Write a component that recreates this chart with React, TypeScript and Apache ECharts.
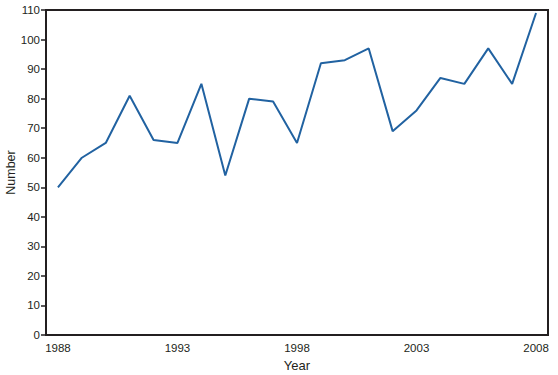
import React, { useEffect, useRef } from "react";
import * as echarts from "echarts";

const years = ["1988","1989","1990","1991","1992","1993","1994","1995","1996","1997","1998","1999","2000","2001","2002","2003","2004","2005","2006","2007","2008"];
const counts = [50, 60, 65, 81, 66, 65, 85, 54, 80, 79, 65, 92, 93, 97, 69, 76, 87, 85, 97, 85, 109];

const ink = "#231f20";
const font = "Liberation Sans, Arial, sans-serif";

export default function App() {
  const ref = useRef<HTMLDivElement>(null);
  useEffect(() => {
    if (!ref.current) return;
    const chart = echarts.init(ref.current, null, { renderer: "svg" });
    chart.setOption({
      animation: false,
      backgroundColor: "#ffffff",
      textStyle: { fontFamily: font },
      grid: {
        left: 46, top: 10, right: 10, bottom: 40,
        containLabel: false,
        outerBoundsMode: "none",
        show: true, borderColor: ink, borderWidth: 2, backgroundColor: "transparent",
      },
      xAxis: [
        {
          type: "category",
          data: years,
          boundaryGap: true,
          name: "Year",
          nameLocation: "middle",
          nameGap: 24,
          nameMoveOverlap: false,
          nameTextStyle: { fontSize: 13, color: ink, fontFamily: font },
          axisLine: { lineStyle: { color: ink, width: 2 } },
          axisTick: { alignWithLabel: true, interval: 0, length: 5, lineStyle: { color: ink, width: 1.5 } },
          axisLabel: { interval: 4, fontSize: 11.5, color: ink, margin: 7, fontFamily: font },
          splitLine: { show: false },
        },
        {
          type: "category",
          data: years,
          boundaryGap: true,
          position: "bottom",
          axisLine: { show: false },
          axisTick: { alignWithLabel: true, interval: 4, length: 5, lineStyle: { color: ink, width: 3 } },
          axisLabel: { show: false },
          splitLine: { show: false },
        },
      ],
      yAxis: {
        type: "value",
        min: 0,
        max: 110,
        interval: 10,
        name: "Number",
        nameLocation: "middle",
        nameGap: 29,
        nameMoveOverlap: false,
        nameTextStyle: { fontSize: 12.5, color: ink, fontFamily: font },
        axisLine: { show: true, lineStyle: { color: ink, width: 2 } },
        axisTick: { show: true, length: 5, lineStyle: { color: ink, width: 1.5 } },
        axisLabel: { fontSize: 11.5, color: ink, margin: 6, fontFamily: font },
        splitLine: { show: false },
      },
      series: [
        {
          type: "line",
          data: counts,
          xAxisIndex: 0,
          symbol: "none",
          lineStyle: { color: "#2162a1", width: 2 },
        },
      ],
    });
    return () => chart.dispose();
  }, []);
  return <div ref={ref} style={{ width: 558, height: 375, position: "absolute", left: 0, top: 0 }} />;
}
